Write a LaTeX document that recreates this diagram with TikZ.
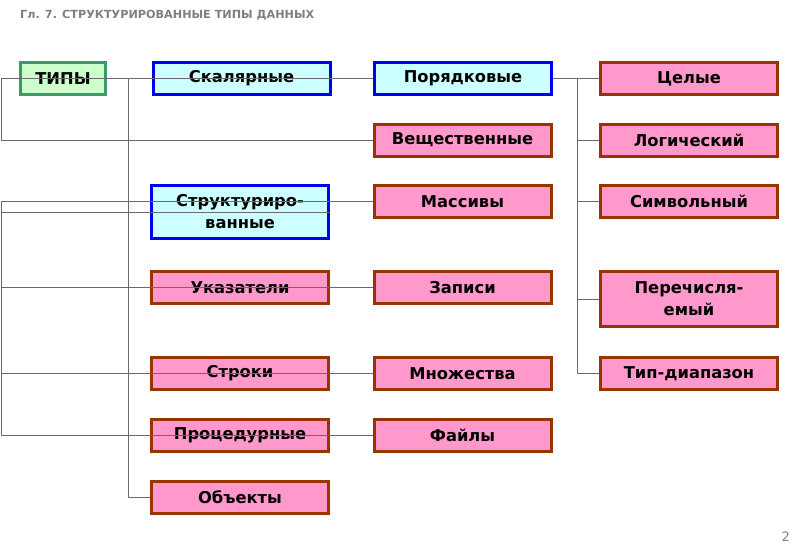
\documentclass[tikz,border=0pt]{standalone}
\usepackage{fontspec}
\setmainfont{DejaVu Sans}
\definecolor{lnk}{HTML}{6A6A6A}
\definecolor{bluebd}{HTML}{0000F0}
\definecolor{bluefl}{HTML}{CCFFFF}
\definecolor{pinkbd}{HTML}{993300}
\definecolor{pinkfl}{HTML}{FF99CC}
\definecolor{greenbd}{HTML}{3A9A6A}
\definecolor{greenfl}{HTML}{CCFFCC}
\definecolor{ttl}{HTML}{808080}
\tikzset{
  box/.style={draw, line width=3pt, minimum width=177pt, minimum height=32pt,
    inner sep=0pt, align=center, font=\fontsize{16.3}{22}\selectfont\bfseries, text=black},
  bluebox/.style={box, draw=bluebd, fill=bluefl},
  pinkbox/.style={box, draw=pinkbd, fill=pinkfl},
  greenbox/.style={box, draw=greenbd, fill=greenfl, minimum width=85pt},
  tallbox/.style={minimum height=53pt},
  link/.style={draw=lnk, line width=0.9pt},
}
\begin{document}
\begin{tikzpicture}[x=1pt,y=-1pt]
\useasboundingbox (0,0) rectangle (800,554);
\node[anchor=base west, text=ttl, font=\fontsize{11.2}{13}\selectfont\bfseries, inner sep=0pt] (title) at (20,18.5) {Гл. 7. СТРУКТУРИРОВАННЫЕ ТИПЫ ДАННЫХ};
\node[anchor=base east, text=ttl, font=\fontsize{13}{15}\selectfont, inner sep=0pt] (pnum) at (790,541) {2};

\node[greenbox] (tipy) at (63,78.5) {ТИПЫ};
\node[bluebox] (skal) at (241.5,78.5) {Скалярные};
\node[bluebox] (por) at (463,78.5) {Порядковые};
\node[pinkbox] (cel) at (689,78.5) {Целые};
\node[pinkbox] (vesh) at (462.5,140) {Вещественные};
\node[pinkbox] (log) at (689,140) {Логический};
\node[bluebox, tallbox] (str) at (240,212) {Структуриро-\\ванные};
\node[pinkbox] (mas) at (462.5,201.5) {Массивы};
\node[pinkbox] (sim) at (689,201.5) {Символьный};
\node[pinkbox] (uk) at (240,287.5) {Указатели};
\node[pinkbox] (zap) at (462.5,287.5) {Записи};
\node[pinkbox, tallbox, minimum height=55pt] (per) at (689,299) {Перечисля-\\емый};
\node[pinkbox] (strk) at (240,373.5) {Строки};
\node[pinkbox] (mno) at (462.5,373.5) {Множества};
\node[pinkbox] (diap) at (689,373.5) {Тип-диапазон};
\node[pinkbox] (proc) at (240,435.5) {Процедурные};
\node[pinkbox] (fai) at (462.5,435.5) {Файлы};
\node[pinkbox] (obj) at (240,497.5) {Объекты};

\coordinate (L1) at (1,78.5);
\coordinate (V) at (128,78.5);
\coordinate (L2) at (1,201.5);
\coordinate (R) at (577,78.5);

\draw[link] (L1) -- (por.west);
\draw[link] (L1) |- (vesh.west);
\draw[link] (V) |- (obj.west);
\draw[link] (L2) -- (mas.west);
\draw[link] (L2) |- (fai.west);
\draw[link] (L2 |- str.east) -- (str.east);
\draw[link] (L2 |- zap.west) -- (zap.west);
\draw[link] (L2 |- mno.west) -- (mno.west);
\draw[link] (por.east) -- (cel.west);
\draw[link] (R) |- (diap.west);
\draw[link] (R |- log.west) -- (log.west);
\draw[link] (R |- sim.west) -- (sim.west);
\draw[link] (R |- per.west) -- (per.west);
\end{tikzpicture}
\end{document}
